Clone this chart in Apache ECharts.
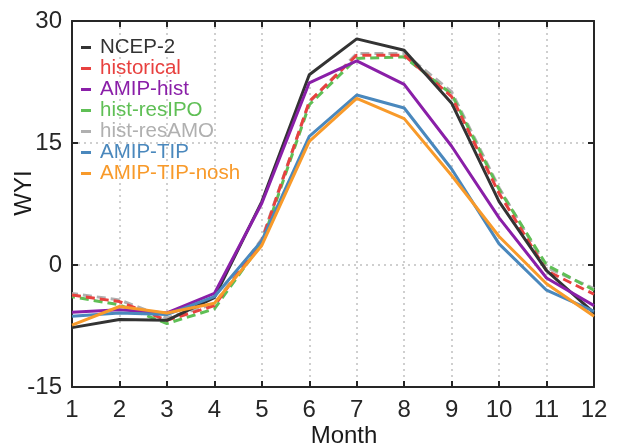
<!DOCTYPE html>
<html>
<head>
<meta charset="utf-8">
<script src="https://cdn.jsdelivr.net/npm/echarts@6/dist/echarts.min.js"></script>
<style>html,body{margin:0;padding:0;background:#fff}#c{width:622px;height:447px}</style>
</head>
<body>
<div id="c"></div>
<script>
const months = ['1','2','3','4','5','6','7','8','9','10','11','12'];
const yTicks = [-15, 0, 15, 30];
const seriesNames = ['NCEP-2','historical','AMIP-hist','hist-resIPO','hist-resAMO','AMIP-TIP','AMIP-TIP-nosh'];
const ncep2       = [-7.7, -6.7, -6.8, -4.0, 7.8, 23.4, 27.8, 26.4, 19.9, 7.8, -0.7, -5.9];
const historical  = [-3.7, -4.5, -6.8, -5.0, 3.0, 20.1, 25.8, 25.8, 20.7, 8.8, -0.7, -3.6];
const amipHist    = [-5.8, -5.5, -5.9, -3.5, 7.6, 22.4, 25.1, 22.2, 14.6, 5.8, -1.6, -5.0];
const histResIPO  = [-3.9, -4.9, -7.2, -5.4, 2.7, 19.7, 25.4, 25.6, 21.0, 9.3, 0.0, -3.1];
const histResAMO  = [-3.5, -4.3, -6.5, -4.8, 3.2, 20.0, 26.0, 26.0, 21.3, 9.5, -0.3, -2.9];
const amipTip     = [-6.3, -5.9, -6.1, -3.9, 3.0, 15.8, 20.9, 19.3, 11.8, 2.6, -3.1, -5.7];
const amipTipNosh = [-7.4, -5.1, -5.9, -4.7, 2.4, 15.2, 20.5, 18.0, 11.0, 3.5, -2.3, -6.3];

const values = [ncep2, historical, amipHist, histResIPO, histResAMO, amipTip, amipTipNosh];
const colors = ['#333333', '#e8413f', '#8a1fa8', '#5fbf55', '#b0b0b0', '#4a88bd', '#f89a2a'];
const dashed = [false, true, false, true, true, false, false];
const zs = [5, 4, 5, 2, 1, 5, 5];
const dashOffsets = [0, 0, 0, 6, 3, 0, 0];

const FONT = '"Liberation Sans", Arial, Helvetica, sans-serif';
const axisColor = '#262626';

const chart = echarts.init(document.getElementById('c'), null, {renderer: 'canvas'});
const series = seriesNames.map((n, i) => ({
  name: n,
  type: 'line',
  data: values[i],
  showSymbol: false,
  symbol: 'none',
  z: zs[i],
  color: colors[i],
  lineStyle: {
    color: colors[i],
    width: 3,
    type: dashed[i] ? [9, 5] : 'solid',
    dashOffset: dashOffsets[i],
    cap: 'butt'
  },
  emphasis: {disabled: true}
}));

chart.setOption({
  animation: false,
  backgroundColor: '#fff',
  textStyle: {fontFamily: FONT},
  grid: {left: 72, right: 28, top: 21, bottom: 60, containLabel: false, outerBoundsMode: 'none'},
  legend: {
    orient: 'vertical',
    left: 81,
    top: 37,
    icon: 'rect',
    itemWidth: 10,
    itemHeight: 3,
    itemGap: 0,
    padding: 0,
    data: seriesNames.map((n, i) => ({
      name: n,
      icon: 'rect',
      itemStyle: {color: colors[i]},
      lineStyle: {width: 0},
      textStyle: {color: colors[i]}
    })),
    textStyle: {fontFamily: FONT, fontSize: 20.5, lineHeight: 19.7, padding: [0, 0, 0, 4]}
  },
  xAxis: [{
    type: 'category',
    data: months,
    boundaryGap: false,
    position: 'bottom',
    name: 'Month',
    nameLocation: 'middle',
    nameGap: 37,
    nameMoveOverlap: false,
    nameTextStyle: {fontFamily: FONT, fontSize: 24, color: '#1a1a1a', padding: [0, 0, 0, 22]},
    axisLine: {show: true, onZero: false, lineStyle: {color: axisColor, width: 2}},
    axisTick: {show: true, inside: true, length: 6, lineStyle: {color: axisColor, width: 2}},
    axisLabel: {fontFamily: FONT, fontSize: 24, color: '#262626', margin: 11},
    splitLine: {show: true, lineStyle: {color: '#cfcfcf', width: 2, type: [2, 4]}}
  }, {
    type: 'category',
    data: months,
    boundaryGap: false,
    position: 'top',
    axisLine: {show: true, onZero: false, lineStyle: {color: axisColor, width: 2}},
    axisTick: {show: true, inside: true, length: 6, lineStyle: {color: axisColor, width: 2}},
    axisLabel: {show: false},
    splitLine: {show: false}
  }],
  yAxis: [{
    type: 'value',
    min: yTicks[0],
    max: yTicks[yTicks.length - 1],
    interval: 15,
    position: 'left',
    name: 'WYI',
    nameLocation: 'middle',
    nameGap: 36,
    nameMoveOverlap: false,
    nameTextStyle: {fontFamily: FONT, fontSize: 24, color: '#1a1a1a', padding: [0, 0, 0, 22]},
    axisLine: {show: true, onZero: false, lineStyle: {color: axisColor, width: 2}},
    axisTick: {show: true, inside: true, length: 6, lineStyle: {color: axisColor, width: 2}},
    axisLabel: {fontFamily: FONT, fontSize: 24, color: '#262626', margin: 10},
    splitLine: {show: true, lineStyle: {color: '#cfcfcf', width: 2, type: [2, 4]}}
  }, {
    type: 'value',
    min: yTicks[0],
    max: yTicks[yTicks.length - 1],
    interval: 15,
    position: 'right',
    axisLine: {show: true, onZero: false, lineStyle: {color: axisColor, width: 2}},
    axisTick: {show: true, inside: true, length: 6, lineStyle: {color: axisColor, width: 2}},
    axisLabel: {show: false},
    splitLine: {show: false}
  }],
  series: series
});
</script>
</body>
</html>
